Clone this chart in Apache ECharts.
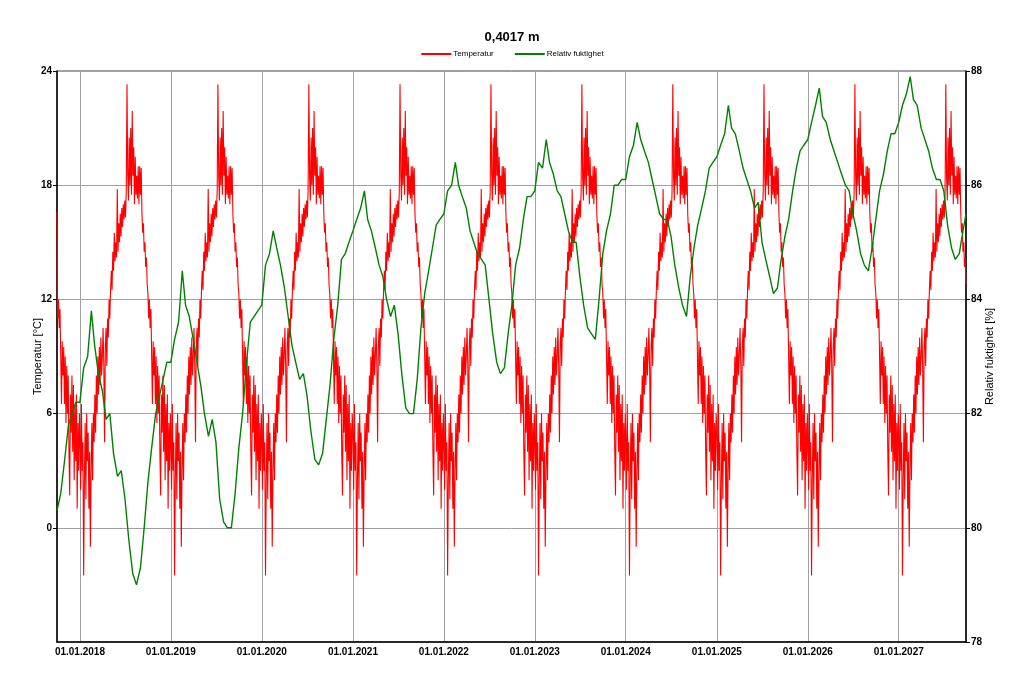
<!DOCTYPE html>
<html><head><meta charset="utf-8">
<script src="https://cdn.jsdelivr.net/npm/echarts@6/dist/echarts.min.js"></script>
<style>html,body{margin:0;padding:0;background:#fff}#c{width:1024px;height:690px}</style>
</head><body><div id="c"></div>
<script>
// ---- data ----
const titleText = '0,4017 m';
const seriesNames = ['Temperatur', 'Relativ fuktighet'];
const startDate = '2017-10-01';
const endDate = '2027-09-28';
const tempTicks = [-6, 0, 6, 12, 18, 24];
const rhTicks = [78, 80, 82, 84, 86, 88];
const years = [2017, 2018, 2019, 2020, 2021, 2022, 2023, 2024, 2025, 2026, 2027];

// Temperature repeats the same annual climate cycle every year: one value every 3 days from 1 Jan (°C)
const tempCycleStepDays = 3;
const tempCycleValues = [
  5.0, 2.0, 6.5, 3.0, 4.5, -2.5, 2.5, 5.5, 1.5, 6.0, 3.5,          // Jan
  5.0, 1.0, 4.0, -1.0, 3.0, 5.5, 2.5, 6.0, 4.5,                     // Feb
  7.0, 5.0, 8.0, 6.0, 9.0, 7.0, 9.5, 7.5, 10.0, 8.0,                // Mar
  9.0, 10.5, 8.5, 4.5, 9.5, 10.5, 8.5, 11.0, 10.0, 12.0,            // Apr
  11.0, 12.5, 13.5, 12.5, 14.5, 13.5, 15.5, 14.0, 15.0, 14.2, 17.8, // May
  14.5, 16.0, 15.0, 16.5, 15.3, 16.8, 15.8, 17.0, 16.2, 17.2,       // Jun
  16.3, 17.7, 23.3, 18.5, 17.2, 20.5, 18.0, 21.0, 17.5, 21.9,       // Jul
  18.5, 20.0, 17.0, 19.5, 17.5, 18.5, 17.3, 19.0, 17.0, 19.0,       // Aug
  17.5, 18.9, 16.5, 15.5, 16.0, 14.5, 15.0, 13.7, 14.2, 12.8,       // Sep
  12.3, 11.0, 12.0, 10.5, 11.5, 9.0, 6.5, 9.8, 8.0, 9.5,            // Oct
  6.5, 9.0, 5.5, 8.5, 6.0, 8.0, 4.0, 1.7, 7.0, 5.0,                 // Nov
  8.0, 4.0, 7.5, 2.5, 6.5, 3.5, 7.0, 1.0, 5.5, 3.0, 6.0             // Dec
];
const tempStartValues = [16.6, 12.2];

// Relative humidity on the 1st and 16th of each month, Oct 2017 .. Sep 2027, then end date (%)
const rhValues = [
  80.3, 80.6, 81.2, 81.8, 82.0, 82.2,
  82.2, 82.8, 83.0, 83.8, 83.2, 82.7, 82.4, 81.9, 82.0, 81.3, 80.9, 81.0, 80.5, 79.8, 79.2, 79.0, 79.3, 80.0, 80.8, 81.4, 82.0, 82.3, 82.6, 82.9,
  82.9, 83.3, 83.6, 84.5, 83.9, 83.7, 83.3, 82.9, 82.5, 82.0, 81.6, 81.9, 81.5, 80.5, 80.1, 80.0, 80.0, 80.6, 81.4, 82.0, 82.9, 83.6, 83.7, 83.8,
  83.9, 84.6, 84.8, 85.2, 84.9, 84.6, 84.2, 83.7, 83.2, 82.9, 82.6, 82.7, 82.3, 81.7, 81.2, 81.1, 81.3, 81.9, 82.5, 83.3, 83.9, 84.7, 84.8, 85.0,
  85.2, 85.4, 85.6, 85.9, 85.4, 85.2, 84.9, 84.6, 84.4, 84.0, 83.7, 83.9, 83.4, 82.7, 82.1, 82.0, 82.0, 82.6, 83.5, 84.1, 84.5, 84.9, 85.3, 85.4,
  85.5, 85.9, 86.0, 86.4, 86.0, 85.8, 85.6, 85.2, 85.0, 84.8, 84.7, 84.6, 84.0, 83.4, 82.9, 82.7, 82.8, 83.4, 83.9, 84.6, 84.9, 85.4, 85.8, 85.8,
  85.9, 86.4, 86.3, 86.8, 86.4, 86.2, 85.9, 85.8, 85.5, 85.2, 85.0, 85.0, 84.4, 83.9, 83.5, 83.4, 83.3, 84.0, 84.8, 85.2, 85.5, 86.0, 86.0, 86.1,
  86.1, 86.5, 86.7, 87.1, 86.8, 86.6, 86.4, 86.1, 85.8, 85.5, 85.4, 85.4, 85.1, 84.6, 84.2, 83.9, 83.7, 84.4, 84.9, 85.3, 85.6, 85.9, 86.3, 86.4,
  86.5, 86.7, 86.9, 87.4, 87.0, 86.9, 86.6, 86.3, 86.1, 85.9, 85.6, 85.7, 85.0, 84.7, 84.4, 84.1, 84.2, 84.7, 85.1, 85.4, 85.9, 86.3, 86.6, 86.7,
  86.8, 87.1, 87.4, 87.7, 87.2, 87.1, 86.8, 86.6, 86.4, 86.2, 86.0, 85.9, 85.5, 85.2, 84.8, 84.6, 84.5, 84.9, 85.4, 85.9, 86.2, 86.6, 86.9, 86.9,
  87.1, 87.4, 87.6, 87.9, 87.5, 87.4, 87.0, 86.8, 86.6, 86.3, 86.1, 86.1, 85.9, 85.3, 84.9, 84.7, 84.8, 85.2,
  85.5
];

// ---- build series ----
const DAY = 86400000;
const tStart = Date.parse(startDate + 'T00:00:00Z');
const tEnd = Date.parse(endDate + 'T00:00:00Z');

const tempData = [[tStart, tempStartValues[0]], [tStart + DAY, tempStartValues[1]]];
years.forEach(y => {
  const base = Date.UTC(y, 0, 1);
  tempCycleValues.forEach((v, i) => {
    const t = base + i * tempCycleStepDays * DAY;
    if (t > tStart + DAY && t <= tEnd) tempData.push([t, v]);
  });
});

const rhDates = [];
years.forEach(y => {
  for (let m = 0; m < 12; m++) {
    [1, 16].forEach(dd => {
      const t = Date.UTC(y, m, dd);
      if (t >= tStart && t < tEnd - 5 * DAY) rhDates.push(t);
    });
  }
});
rhDates.push(tEnd);
const rhData = rhDates.slice(0, rhValues.length).map((t, i) => [t, rhValues[i]]);

const FONT = 'Liberation Sans, Arial, sans-serif';
const chart = echarts.init(document.getElementById('c'), null, { renderer: 'canvas' });
chart.setOption({
  useUTC: true,
  animation: false,
  backgroundColor: '#ffffff',
  title: {
    text: titleText, left: 'center', top: 26,
    textStyle: { fontFamily: FONT, fontWeight: 'bold', fontSize: 13, color: '#000' }
  },
  legend: {
    top: 45, left: 'center', itemWidth: 30, itemHeight: 2, itemGap: 20,
    textStyle: { fontFamily: FONT, fontSize: 8, color: '#000', padding: [0, 0, 0, -3] },
    data: seriesNames
  },
  grid: { left: 57, right: 58, top: 71, bottom: 48, show: true, borderColor: '#404040', borderWidth: 1 },
  xAxis: {
    type: 'time', min: tStart, max: tEnd,
    minInterval: 365 * DAY, maxInterval: 366 * DAY, splitNumber: 10,
    axisLine: { show: true, onZero: false, lineStyle: { color: '#000', width: 1.5 } },
    axisTick: { show: false },
    axisLabel: {
      formatter: '{dd}.{MM}.{yyyy}', color: '#000', fontWeight: 'bold', fontSize: 10,
      fontFamily: FONT, margin: 5, showMinLabel: false, showMaxLabel: false, hideOverlap: false
    },
    splitLine: { show: true, lineStyle: { color: '#a0a0a0', width: 1 } }
  },
  yAxis: [
    {
      type: 'value', min: tempTicks[0], max: tempTicks[tempTicks.length - 1], interval: 6,
      name: 'Temperatur [°C]', nameLocation: 'middle', nameGap: 14, nameRotate: 90, nameMoveOverlap: false,
      nameTextStyle: { fontFamily: FONT, fontSize: 11, color: '#000' },
      axisLine: { show: true, onZero: false, lineStyle: { color: '#000', width: 1.5 } },
      axisTick: { show: true, length: 4, lineStyle: { color: '#000' } },
      axisLabel: { showMinLabel: false, color: '#000', fontWeight: 'bold', fontSize: 10, fontFamily: FONT, margin: 5 },
      splitLine: { show: true, lineStyle: { color: '#a0a0a0', width: 1 } }
    },
    {
      type: 'value', position: 'right', min: rhTicks[0], max: rhTicks[rhTicks.length - 1], interval: 2,
      name: 'Relativ fuktighet [%]', nameLocation: 'middle', nameGap: 18, nameRotate: 90, nameMoveOverlap: false,
      nameTextStyle: { fontFamily: FONT, fontSize: 11, color: '#000' },
      axisLine: { show: true, onZero: false, lineStyle: { color: '#000', width: 1.5 } },
      axisTick: { show: true, length: 4, lineStyle: { color: '#000' } },
      axisLabel: { color: '#000', fontWeight: 'bold', fontSize: 10, fontFamily: FONT, margin: 5 },
      splitLine: { show: false }
    }
  ],
  series: [
    {
      name: seriesNames[0], type: 'line', yAxisIndex: 0, data: tempData, symbol: 'none',
      lineStyle: { color: '#ff0000', width: 1.1 }, itemStyle: { color: '#ff0000' }
    },
    {
      name: seriesNames[1], type: 'line', yAxisIndex: 1, data: rhData, symbol: 'none',
      lineStyle: { color: '#008000', width: 1.4 }, itemStyle: { color: '#008000' }
    }
  ]
});
</script></body></html>
